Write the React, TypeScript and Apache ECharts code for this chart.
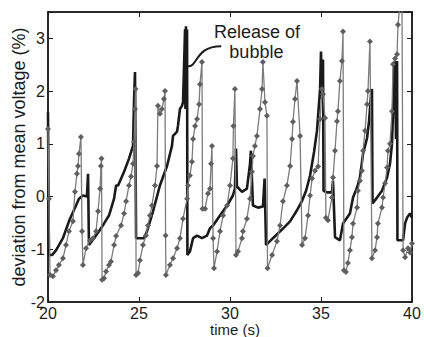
import React, { useEffect, useRef } from "react";
import * as echarts from "echarts";

// time axis ticks (s) and voltage deviation ticks (%)
const timeTicks = [20, 25, 30, 35, 40];
const devTicks = [-2, -1, 0, 1, 2, 3];

// dark (thick black) trace
const darkT = [
  20.0, 20.05, 20.22, 20.44, 20.82, 21.15, 21.54, 21.7, 21.92, 22.14, 22.2, 22.25, 22.53, 22.8, 23.08, 23.35,
  23.63, 23.74, 23.85, 24.18, 24.45, 24.67, 24.73, 24.78, 24.84, 25.11, 25.27, 25.44, 25.77, 26.15, 26.54,
  26.81, 26.87, 27.09, 27.14, 27.25, 27.36, 27.42, 27.47, 27.53, 27.55, 27.58, 27.61, 27.64, 27.66, 27.8,
  27.97, 28.19, 28.46, 28.74, 28.9, 29.07, 29.45, 29.84, 30.16, 30.27, 30.33, 30.38, 30.66, 30.93, 31.1,
  31.15, 31.26, 31.54, 31.81, 31.9, 31.98, 32.36, 32.75, 33.02, 33.3, 33.68, 33.96, 34.18, 34.4, 34.62,
  34.78, 34.95, 35.0, 35.05, 35.11, 35.14, 35.33, 35.6, 35.66, 35.77, 36.04, 36.21, 36.59, 36.76, 36.98,
  37.14, 37.31, 37.53, 37.64, 37.75, 37.8, 37.83, 38.08, 38.35, 38.63, 38.79, 38.9, 38.96, 39.01, 39.07,
  39.12, 39.18, 39.2, 39.51, 39.62, 39.73, 39.89, 40.0,
];
const darkV = [
  1.6, -1.11, -1.11, -1.02, -0.79, -0.47, -0.17, -0.04, 0.02, 0.0, 0.43, -0.92, -0.79, -0.66, -0.51, -0.36,
  -0.04, 0.21, 0.21, 0.47, 0.72, 0.96, 1.85, 2.36, -0.79, -0.79, -0.79, -0.66, -0.28, 0.21, 0.58,
  0.96, 1.15, 1.23, 1.34, 1.66, 1.72, 1.79, 2.42, 3.17, 1.66, 3.23, 1.85, 3.17, -1.11, -1.04,
  -0.79, -0.74, -0.79, -0.74, -0.6, -0.55, -0.36, -0.17, 0.02, 0.15, 0.91, 0.19, 0.09, 0.15, 0.62,
  0.87, -0.17, -0.21, -0.19, 0.34, -0.92, -0.79, -0.66, -0.57, -0.47, -0.26, -0.08, 0.11, 0.4, 0.85,
  1.25, 2.04, 2.75, 1.85, 2.6, 0.11, 0.08, 0.08, 0.3, -0.77, -0.83, -0.51, -0.32, -0.02, 0.17,
  0.36, 0.81, 1.11, 1.43, 1.94, 2.04, -0.13, -0.02, 0.11, 0.36, 0.62, 1.0, 1.62, 2.42, 2.57,
  1.09, 2.57, -0.83, -0.83, -0.51, -0.4, -0.32, -0.4,
];

// gray trace with diamond markers
const grayT = [
  20.0, 20.05, 20.11, 20.27, 20.44, 20.6, 20.82, 20.99, 21.15, 21.37, 21.48, 21.59, 21.65, 21.7, 21.81,
  21.87, 21.92, 22.09, 22.31, 22.47, 22.64, 22.75, 22.86, 22.91, 22.94, 22.97, 23.08, 23.19, 23.35, 23.46,
  23.63, 23.74, 24.01, 24.18, 24.29, 24.45, 24.56, 24.67, 24.73, 24.78, 24.81, 24.84, 24.95, 25.05, 25.22,
  25.38, 25.49, 25.6, 25.71, 25.88, 25.99, 26.04, 26.15, 26.26, 26.37, 26.43, 26.46, 26.48, 26.7, 26.87,
  27.09, 27.25, 27.42, 27.64, 27.69, 27.8, 27.91, 27.97, 28.08, 28.19, 28.3, 28.35, 28.46, 28.49, 28.63,
  28.79, 28.9, 28.96, 29.01, 29.07, 29.12, 29.29, 29.45, 29.62, 29.84, 30.0, 30.16, 30.19, 30.27, 30.33,
  30.44, 30.66, 30.71, 30.93, 31.1, 31.21, 31.26, 31.37, 31.48, 31.65, 31.76, 31.81, 31.92, 32.03, 32.06,
  32.31, 32.58, 32.75, 32.91, 33.13, 33.3, 33.41, 33.46, 33.57, 33.68, 33.85, 33.96, 34.12, 34.29, 34.4,
  34.51, 34.67, 34.84, 34.95, 35.05, 35.11, 35.22, 35.27, 35.38, 35.6, 35.66, 35.77, 35.88, 35.93, 36.04,
  36.15, 36.21, 36.26, 36.37, 36.48, 36.59, 36.7, 36.76, 36.98, 37.03, 37.14, 37.25, 37.31, 37.42, 37.53,
  37.58, 37.69, 37.8, 37.97, 38.08, 38.13, 38.35, 38.41, 38.52, 38.63, 38.68, 38.79, 38.9, 38.96, 39.07,
  39.18, 39.23, 39.34, 39.45, 39.51, 39.62, 39.78, 39.89, 40.0,
];
const grayV = [
  1.28, -0.04, -1.49, -1.51, -1.4, -1.3, -1.17, -0.92, -0.66, -0.47, 0.09, 0.43, 0.58, 0.81, 1.13,
  -0.66, -1.3, -0.98, -0.83, -0.79, -0.66, -0.28, 0.15, 0.58, 0.72, -1.58, -1.55, -1.42, -1.3, -1.23,
  -0.92, -0.75, -0.55, -0.32, -0.09, 0.21, 0.38, 0.62, 1.04, 1.66, 2.04, -1.49, -1.45, -1.21, -0.92,
  -0.74, -0.55, -0.36, -0.17, 0.21, 0.58, 1.72, 1.57, 1.66, 1.85, 2.0, -0.74, -1.49, -1.3, -1.17,
  -0.98, -0.79, -0.42, -0.04, 0.21, 0.4, 0.66, 1.09, 1.34, 1.47, 1.75, 2.13, 2.55, -0.23, -0.23,
  0.06, 0.15, 0.62, 0.96, -0.79, -1.36, -1.04, -0.66, -0.36, -0.17, 0.21, 0.72, 1.34, 2.04, -1.11,
  -1.04, -0.79, -0.66, -0.42, -0.04, 0.47, 0.77, 0.96, 1.15, 1.66, 2.04, 2.55, 1.79, 1.53, -1.36,
  -1.11, -0.85, -0.55, -0.09, 0.21, 0.58, 1.09, 1.42, 1.85, 2.19, 1.15, -0.92, -0.79, -0.36, 0.02,
  0.34, 0.49, 0.57, 1.47, 2.04, 1.94, 1.49, -0.4, -0.45, -0.02, 0.36, 0.87, 1.43, 1.62, 2.19,
  2.57, 3.13, -1.4, -1.43, -1.26, -1.02, -0.77, -0.51, -0.21, 0.11, 0.3, 0.49, 0.87, 1.25, 1.75,
  2.0, 2.94, -1.17, -1.02, -0.77, -0.51, -0.21, -0.02, 0.25, 0.55, 0.87, 1.0, 1.62, 2.51, 2.62,
  2.7, 3.26, 3.64, 3.64, -1.02, -1.15, -0.98, -1.06, -0.89,
];

// annotation anchors (data coordinates)
const noteLines = ["Release of", "bubble"];
const noteTextAt: [number, number][] = [[31.48, 3.13], [31.45, 2.75]];
const leaderFrom: [number, number] = [27.66, 2.47];
const leaderTo: [number, number] = [29.52, 2.85];

export default function App() {
  const ref = useRef<HTMLDivElement>(null);

  useEffect(() => {
    const chart = echarts.init(ref.current!, null, { renderer: "svg" });
    const font = '"Liberation Sans", Arial, Helvetica, sans-serif';
    const ink = "#1c1c1c";
    const tick = { show: true, inside: true, length: 5, lineStyle: { color: ink, width: 1 } };
    const line = { show: true, onZero: false, lineStyle: { color: ink, width: 1.5 } };

    chart.setOption({
      animation: false,
      backgroundColor: "#ffffff",
      grid: {
        left: 48, right: 12, top: 12, bottom: 35, containLabel: false, outerBoundsMode: "none",
        show: true, borderColor: ink, borderWidth: 1.5, backgroundColor: "transparent",
      },
      xAxis: [
        {
          type: "value", min: timeTicks[0], max: timeTicks[timeTicks.length - 1], interval: 5,
          axisLine: line, axisTick: tick, splitLine: { show: false },
          axisLabel: { color: ink, fontSize: 16, fontFamily: font, margin: 3 },
          name: "time (s)", nameLocation: "middle", nameGap: 20, nameMoveOverlap: false,
          nameTextStyle: { color: ink, fontSize: 15, fontFamily: font, padding: [0, 0, 0, 10] },
        },
        {
          type: "value", position: "top", min: timeTicks[0], max: timeTicks[timeTicks.length - 1], interval: 5,
          axisLine: line, axisTick: tick, splitLine: { show: false }, axisLabel: { show: false },
        },
      ],
      yAxis: [
        {
          type: "value", min: devTicks[0], max: 3.5, interval: 1,
          axisLine: line, axisTick: tick, splitLine: { show: false },
          axisLabel: {
            color: ink, fontSize: 16, fontFamily: font, margin: 3,
            formatter: (v: number) => (devTicks.includes(v) ? String(v) : ""),
          },
          name: "deviation from mean voltage (%)", nameLocation: "middle", nameGap: 20, nameMoveOverlap: false,
          nameTextStyle: { color: ink, fontSize: 18, fontFamily: font },
        },
        {
          type: "value", position: "right", min: devTicks[0], max: 3.5, interval: 1,
          axisLine: line, axisTick: tick, splitLine: { show: false }, axisLabel: { show: false },
        },
      ],
      series: [
        {
          type: "line", name: "dark", xAxisIndex: 0, yAxisIndex: 0,
          data: darkT.map((t, i) => [t, darkV[i]]),
          showSymbol: false, lineStyle: { color: "#1a1a1a", width: 2.6 }, z: 2,
        },
        {
          type: "line", name: "gray", xAxisIndex: 0, yAxisIndex: 0,
          data: grayT.map((t, i) => [t, grayV[i]]),
          showSymbol: true, showAllSymbol: true, symbol: "diamond", symbolSize: 6,
          itemStyle: { color: "#5f5f5f" }, lineStyle: { color: "#7c7c7c", width: 1.3 }, z: 3,
        },
      ],
    });

    const px = (p: [number, number]) => chart.convertToPixel({ gridIndex: 0 }, p) as number[];
    const a = px(leaderFrom);
    const b = px(leaderTo);
    const graphics: any[] = [
      {
        type: "bezierCurve",
        shape: { x1: a[0], y1: a[1], cpx1: a[0] + 11, cpy1: a[1] + 1, cpx2: a[0] + 7, cpy2: b[1], x2: b[0], y2: b[1] },
        style: { stroke: ink, lineWidth: 2, fill: "none" },
        z: 10,
      },
    ];
    noteLines.forEach((txt, i) => {
      const p = px(noteTextAt[i]);
      graphics.push({
        type: "text", x: p[0], y: p[1], z: 10,
        style: { text: txt, fill: ink, font: `18px ${font}`, textAlign: "center", textVerticalAlign: "middle" },
      });
    });
    chart.setOption({ graphic: graphics });

    return () => chart.dispose();
  }, []);

  return (
    <div
      ref={ref}
      style={{ position: "fixed", left: 0, top: 0, width: 424, height: 337, background: "#ffffff" }}
    />
  );
}
